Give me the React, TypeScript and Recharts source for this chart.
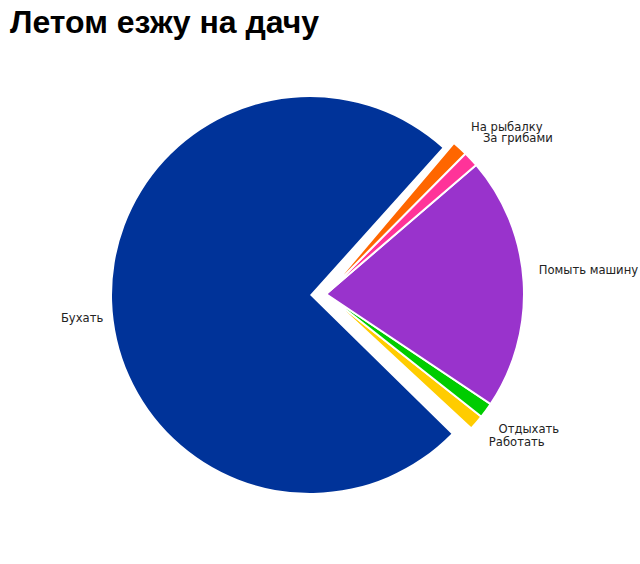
import { Cell, Pie, PieChart } from "recharts";

const CATEGORIES = ["Работать", "Отдыхать", "Помыть машину", "За грибами", "На рыбалку", "Бухать"];
const VALUES = [1.25, 1.25, 20.6, 1.25, 1.25, 74];
const COLORS = ["#FFCC00", "#00CC00", "#9933CC", "#FF3399", "#FF6600", "#003399"];
const EXPLODED = "Бухать";

// label placement tweaks (degrees along the arc, px away from the rim)
const LABEL_TURN = [-1.7, -2, 2.9, 1.8, 1.5, 4.5];
const LABEL_GAP = [22, 21, 16, 23, 23, 10];

const data = CATEGORIES.map((name, i) => ({ name, value: VALUES[i] }));

const RADIAN = Math.PI / 180;

function makeLabel(showExploded: boolean) {
  return (props: any) => {
    const { cx, cy, midAngle, outerRadius, name, index } = props;
    if ((name === EXPLODED) !== showExploded) return null;
    const a = (midAngle + LABEL_TURN[index]) * RADIAN;
    const r = outerRadius + LABEL_GAP[index];
    const x = cx + r * Math.cos(-a);
    const y = cy + r * Math.sin(-a);
    const right = x > cx;
    return (
      <text
        x={x}
        y={y}
        textAnchor={right ? "start" : "end"}
        dominantBaseline="central"
        fontFamily="DejaVu Sans"
        fontSize={11.6}
        fill="#222"
      >
        {name}
      </text>
    );
  };
}

export default function App() {
  return (
    <div
      style={{
        position: "absolute",
        left: 0,
        top: 0,
        width: 640,
        height: 564,
        background: "#fff",
      }}
    >
      <div
        style={{
          position: "absolute",
          left: 10,
          top: 4,
          lineHeight: "36px",
          fontFamily: "Liberation Sans, Arial, sans-serif",
          fontWeight: "bold",
          fontSize: 32,
          color: "#000",
        }}
      >
        Летом езжу на дачу
      </div>
      <PieChart width={640} height={564} margin={{ top: 0, right: 0, bottom: 0, left: 0 }}>
        <Pie
          data={data}
          dataKey="value"
          nameKey="name"
          cx={326}
          cy={294}
          outerRadius={198}
          startAngle={-42.8}
          endAngle={-42.8 + 360}
          stroke="#fff"
          strokeWidth={2}
          labelLine={false}
          label={makeLabel(false)}
          isAnimationActive={false}
        >
          {data.map((entry, index) => (
            <Cell
              key={entry.name}
              fill={entry.name === EXPLODED ? "none" : COLORS[index]}
              stroke={entry.name === EXPLODED ? "none" : "#fff"}
            />
          ))}
        </Pie>
        <Pie
          data={data}
          dataKey="value"
          nameKey="name"
          cx={310}
          cy={295}
          outerRadius={198}
          startAngle={-44.45}
          endAngle={-44.45 + 360}
          stroke="none"
          labelLine={false}
          label={makeLabel(true)}
          isAnimationActive={false}
        >
          {data.map((entry, index) => (
            <Cell
              key={entry.name}
              fill={entry.name === EXPLODED ? COLORS[index] : "none"}
            />
          ))}
        </Pie>
      </PieChart>
    </div>
  );
}
